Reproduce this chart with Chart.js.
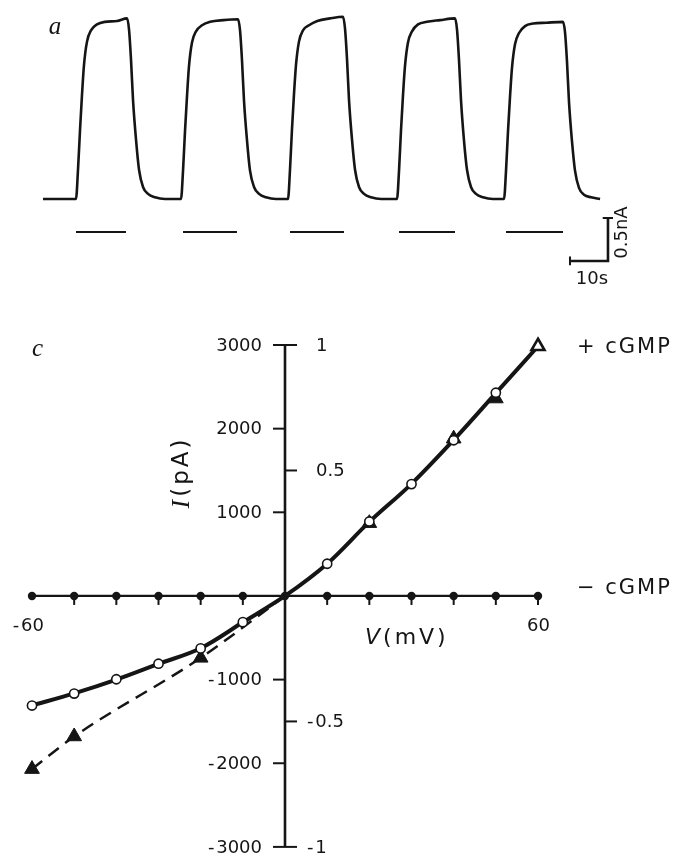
<!DOCTYPE html>
<html><head><meta charset="utf-8">
<script src="https://cdn.jsdelivr.net/npm/chart.js@4.4.1/dist/chart.umd.min.js"></script>
<style>
html,body{margin:0;padding:0;background:#fff;}
#wrap{position:relative;width:678px;height:857px;overflow:hidden;background:#fff;}
#ca{position:absolute;left:0;top:0;}
#cc{position:absolute;left:0;top:300px;}
</style></head><body>
<div id="wrap">
<canvas id="ca" width="678" height="300"></canvas>
<canvas id="cc" width="678" height="557"></canvas>
</div>
<script>
// ---------- Panel a: current trace (time in s, current in nA) ----------
const traceTime = [
 0, 8.68, 9.21, 9.74, 10.26, 10.79, 11.58, 12.63, 14.21, 16.3, 19.5, 22.11, 22.64, 23.16, 23.69, 24.48, 25.27, 26.32, 27.64, 29.48, 32.1,
 36.32, 36.85, 37.37, 37.90, 38.43, 39.21, 40.27, 41.85, 44.0, 47.5, 51.32, 51.85, 52.37, 52.90, 53.69, 54.48, 55.53, 56.85, 58.69, 61.3,
 64.47, 65.0, 65.52, 66.05, 66.58, 67.36, 68.42, 70.0, 72.2, 75.5, 78.95, 79.48, 80.0, 80.53, 81.32, 82.11, 83.16, 84.48, 86.32, 89.0,
 93.16, 93.69, 94.21, 94.74, 95.27, 96.05, 97.11, 98.69, 101.0, 104.5, 108.42, 108.95, 109.47, 110.0, 110.79, 111.58, 112.63, 113.95, 115.79, 118.4,
 121.32, 121.85, 122.37, 122.9, 123.43, 124.21, 125.27, 126.85, 129.0, 132.5, 136.84, 137.37, 137.89, 138.42, 139.21, 140.0, 141.05, 142.37, 144.21, 146.6
];
const traceCurrent = [
 0, 0, 0.34, 0.80, 1.21, 1.56, 1.83, 1.96, 2.03, 2.06, 2.07, 2.10, 1.97, 1.62, 1.15, 0.69, 0.34, 0.14, 0.06, 0.02, 0,
 0, 0.33, 0.79, 1.20, 1.55, 1.82, 1.95, 2.02, 2.06, 2.08, 2.09, 1.96, 1.61, 1.14, 0.68, 0.33, 0.14, 0.06, 0.02, 0,
 0, 0.34, 0.81, 1.22, 1.56, 1.83, 1.96, 2.02, 2.07, 2.10, 2.12, 1.98, 1.63, 1.15, 0.69, 0.34, 0.14, 0.06, 0.02, 0,
 0, 0.33, 0.80, 1.21, 1.55, 1.82, 1.95, 2.03, 2.06, 2.08, 2.10, 1.97, 1.62, 1.15, 0.68, 0.34, 0.14, 0.06, 0.02, 0,
 0, 0.33, 0.79, 1.19, 1.53, 1.80, 1.93, 2.01, 2.04, 2.05, 2.06, 1.94, 1.60, 1.13, 0.67, 0.33, 0.13, 0.05, 0.02, 0
];
const stimStart = [8.68, 36.84, 65.0, 93.68, 121.84];
const stimEnd   = [21.84, 51.05, 79.21, 108.42, 136.84];
const stimLevel = -0.384;
const scaleBarTime    = [138.68, 148.68, 148.68];
const scaleBarCurrent = [-0.721, -0.721, -0.221];
const scaleCapTime    = [138.68, 138.68, null, 147.3, 150.0];
const scaleCapCurrent = [-0.67, -0.77, null, -0.221, -0.221];
const timeRange = [-11.316, 167.105];
const currentRange = [-1.1744, 2.314];

// ---------- Panel c: I-V relation ----------
const voltsAll = [-60,-50,-40,-30,-20,-10,0,10,20,30,40,50,60];
const minusCGMP = [0,0,0,0,0,0,0,0,0,0,0,0,0];
const circleV = [-60,-50,-40,-30,-20,-10,10,20,30,40,50];
const circleI = [-1310,-1167,-996,-810,-627,-313,385,890,1337,1861,2429];
const fitI = [-1310,-1165,-1000,-812,-625,-315,0,385,885,1340,1865,2425,2985];
const triFilledV = [-60,-50,-20,20,40,50];
const triFilledI = [-2070,-1680,-740,870,1880,2360];
const triOpenV = [60];
const triOpenI = [2985];
const dashV = [-60,-50,-20,0];
const dashI = [-2070,-1680,-740,0];
const vRange = [-60, 60];
const iRange = [-3000, 3000];
const leftTickVals = [3000,2000,1000,-1000,-2000,-3000];
const leftTickLabels = ['3000','2000','1000','-\u200A1000','-\u200A2000','-\u200A3000'];
const rightTickVals = [3000,1500,-1500,-3000];
const rightTickLabels = ['1','0.5','-\u200A0.5','-\u200A1'];
const xTickVals = [-50,-40,-30,-20,-10,10,20,30,40,50,60];
const xLabelVals = [-60, 60];
const xLabels = ['-\u200A60','60'];

const INK = '#151515';
const pts = (xs, ys) => xs.map((v,i)=>({x:v, y:ys[i]}));

// ---------- Chart a ----------
const stimPts = [];
stimStart.forEach((s,i)=>{ stimPts.push({x:s,y:stimLevel},{x:stimEnd[i],y:stimLevel},{x:(stimEnd[i]+ (stimStart[i+1]||stimEnd[i]+5))/2,y:null}); });

const textA = {
  id:'textA',
  afterDatasetsDraw(chart){
    const {ctx, scales:{x,y}} = chart;
    ctx.save();
    ctx.fillStyle = INK;
    ctx.textBaseline='middle';
    ctx.font = 'italic 25px "Liberation Serif"';
    ctx.textAlign='center';
    ctx.fillText('a', 55, 27);
    ctx.font = '18px "DejaVu Sans"';
    const mx = x.getPixelForValue((scaleBarTime[0]+scaleBarTime[1])/2) + 3;
    ctx.fillText('10s', mx, y.getPixelForValue(scaleBarCurrent[0]) + 18);
    const vx = x.getPixelForValue(scaleBarTime[2]) + 14;
    const vy = y.getPixelForValue((scaleBarCurrent[1]+scaleBarCurrent[2])/2) - 7;
    ctx.translate(vx, vy);
    ctx.rotate(-Math.PI/2);
    ctx.fillText('0.5nA', 0, 0);
    ctx.restore();
  }
};

new Chart(document.getElementById('ca'), {
  type:'scatter',
  data:{ datasets:[
    {data: pts(traceTime, traceCurrent), showLine:true, borderColor:INK, borderWidth:2.6, pointRadius:0, cubicInterpolationMode:'monotone', fill:false},
    {data: stimPts, showLine:true, spanGaps:false, borderColor:INK, borderWidth:2, pointRadius:0},
    {data: pts(scaleBarTime, scaleBarCurrent), showLine:true, borderColor:INK, borderWidth:2.6, pointRadius:0},
    {data: pts(scaleCapTime, scaleCapCurrent), showLine:true, spanGaps:false, borderColor:INK, borderWidth:2, pointRadius:0}
  ]},
  options:{
    responsive:false, animation:false, events:[],
    layout:{padding:0},
    plugins:{legend:{display:false}, tooltip:{enabled:false}},
    scales:{
      x:{type:'linear', min:timeRange[0], max:timeRange[1], display:false},
      y:{type:'linear', min:currentRange[0], max:currentRange[1], display:false}
    }
  },
  plugins:[textA]
});

// ---------- Chart c ----------
const axesC = {
  id:'axesC',
  beforeDatasetsDraw(chart){
    const {ctx, scales:{x,y}} = chart;
    const x0 = x.getPixelForValue(0), y0 = y.getPixelForValue(0);
    const L = (a,b,c,d)=>{ctx.beginPath();ctx.moveTo(a,b);ctx.lineTo(c,d);ctx.stroke();};
    ctx.save();
    ctx.strokeStyle = INK; ctx.fillStyle = INK;
    ctx.lineWidth = 2.6;
    L(x0, y.getPixelForValue(iRange[1]), x0, y.getPixelForValue(iRange[0]));
    ctx.lineWidth = 2.2;
    L(x.getPixelForValue(vRange[0]), y0, x.getPixelForValue(vRange[1]), y0);
    ctx.lineWidth = 2;
    leftTickVals.forEach(v=>{const p=y.getPixelForValue(v); L(x0-12,p,x0,p);});
    rightTickVals.forEach(v=>{const p=y.getPixelForValue(v); L(x0,p,x0+12,p);});
    xTickVals.forEach(v=>{const p=x.getPixelForValue(v); L(p,y0,p,y0+9);});
    ctx.font = '18px "DejaVu Sans"';
    ctx.textBaseline = 'middle';
    ctx.textAlign = 'right';
    leftTickVals.forEach((v,i)=>ctx.fillText(leftTickLabels[i], x0-23, y.getPixelForValue(v)+1));
    ctx.textAlign = 'left';
    rightTickVals.forEach((v,i)=>ctx.fillText(rightTickLabels[i], x0 + (v<0?22:31), y.getPixelForValue(v)+1));
    ctx.textAlign = 'right';
    xLabelVals.forEach((v,i)=>ctx.fillText(xLabels[i], x.getPixelForValue(v)+12, y0+30));
    ctx.restore();
  },
  afterDatasetsDraw(chart){
    const {ctx, scales:{x,y}} = chart;
    const x0 = x.getPixelForValue(0), y0 = y.getPixelForValue(0);
    ctx.save();
    ctx.fillStyle = INK;
    ctx.textBaseline = 'middle'; ctx.textAlign='left';
    ctx.font = 'italic 25px "Liberation Serif"';
    ctx.fillText('c', 32, 49);
    ctx.font = '21px "DejaVu Sans"';
    ctx.letterSpacing = '2px';
    const lx = x.getPixelForValue(vRange[1]) + 39;
    ctx.fillText('+ cGMP', lx, y.getPixelForValue(iRange[1]) + 3);
    ctx.fillText('\u2212 cGMP', lx, y0 - 7);
    let vx = x0 + 80, vy = y0 + 42;
    ctx.font = 'italic 22px "DejaVu Sans"';
    ctx.letterSpacing = '3px';
    ctx.fillText('V', vx, vy);
    vx += ctx.measureText('V').width;
    ctx.font = '22px "DejaVu Sans"';
    ctx.fillText('(mV)', vx, vy);
    ctx.translate(x0 - 103, y.getPixelForValue(1500) + 38);
    ctx.rotate(-Math.PI/2);
    ctx.font = 'italic 26px "Liberation Serif"';
    ctx.letterSpacing = '3px';
    ctx.fillText('I', 0, 0);
    let w = ctx.measureText('I').width;
    ctx.font = '23px "DejaVu Sans"';
    ctx.fillText('(pA)', w, 0);
    ctx.restore();
  }
};

new Chart(document.getElementById('cc'), {
  type:'scatter',
  data:{ datasets:[
    {label:'circles', order:0, data: pts(circleV, circleI), showLine:false, pointStyle:'circle', pointRadius:4.6, pointBackgroundColor:'#fff', pointBorderColor:INK, pointBorderWidth:1.6},
    {label:'open tri', order:1, data: pts(triOpenV, triOpenI), showLine:false, pointStyle:'triangle', pointRadius:7.5, pointBackgroundColor:'#fff', pointBorderColor:INK, pointBorderWidth:2.6},
    {label:'filled tri', order:2, data: pts(triFilledV, triFilledI), showLine:false, pointStyle:'triangle', pointRadius:8.5, pointBackgroundColor:INK, pointBorderColor:INK, pointBorderWidth:1},
    {label:'fit', order:3, data: pts(voltsAll, fitI), showLine:true, borderColor:INK, borderWidth:4, pointRadius:0, cubicInterpolationMode:'monotone'},
    {label:'dash', order:4, data: pts(dashV, dashI), showLine:true, borderColor:INK, borderWidth:2.5, borderDash:[13,8], pointRadius:0, cubicInterpolationMode:'monotone'},
    {label:'-cGMP', order:5, data: pts(voltsAll, minusCGMP), showLine:false, pointStyle:'circle', pointRadius:4.2, pointBackgroundColor:INK, pointBorderColor:INK, pointBorderWidth:0}
  ]},
  options:{
    responsive:false, animation:false, events:[],
    layout:{padding:{left:32, right:140, top:45, bottom:8}},
    plugins:{legend:{display:false}, tooltip:{enabled:false}},
    clip:false,
    scales:{
      x:{type:'linear', min:vRange[0], max:vRange[1], display:false},
      y:{type:'linear', min:iRange[0], max:iRange[1], display:false}
    }
  },
  plugins:[axesC]
});
</script>
</body></html>
